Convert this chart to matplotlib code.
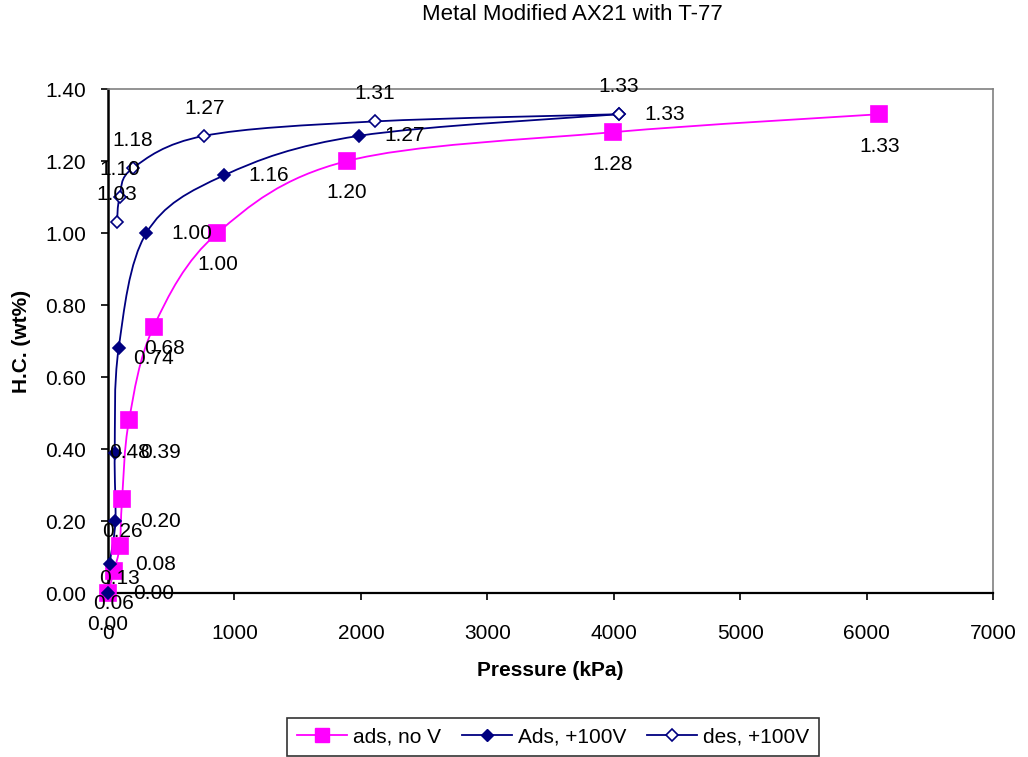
import numpy as np
import matplotlib; matplotlib.use('agg')
import matplotlib.pyplot as plt
from matplotlib.path import Path
from matplotlib.patches import PathPatch

# ads, no V
p_ads_nov = [0, 45, 92, 111, 166, 361, 865, 1890, 3990, 6100]
hc_ads_nov = [0.00, 0.06, 0.13, 0.26, 0.48, 0.74, 1.00, 1.20, 1.28, 1.33]

# Ads, +100V
p_ads_v = [0, 13, 58, 53, 84, 303, 916, 1985, 4040]
hc_ads_v = [0.00, 0.08, 0.20, 0.39, 0.68, 1.00, 1.16, 1.27, 1.33]

# des, +100V
p_des_v = [4040, 2110, 761, 195, 92, 71]
hc_des_v = [1.33, 1.31, 1.27, 1.18, 1.10, 1.03]

MAGENTA = '#FF00FF'
NAVY = '#000080'
XMAX, YMAX = 7000, 1.40
FS = 15

plt.rcParams['font.family'] = ['Liberation Sans', 'DejaVu Sans']


def smooth_path(ax, xs, ys):
    # excel-like smoothed line: catmull-rom turned into cubic beziers,
    # done in pixel-ish space so both axes count the same
    bb = ax.get_position()
    fig = ax.figure
    W = bb.width * fig.get_figwidth()
    H = bb.height * fig.get_figheight()
    u = np.asarray(xs, float) / XMAX * W
    v = np.asarray(ys, float) / YMAX * H
    n = len(u)
    verts = [(u[0], v[0])]
    codes = [Path.MOVETO]
    for i in range(n - 1):
        i0 = max(i - 1, 0)
        i3 = min(i + 2, n - 1)
        c1 = (u[i] + (u[i + 1] - u[i0]) / 6, v[i] + (v[i + 1] - v[i0]) / 6)
        c2 = (u[i + 1] - (u[i3] - u[i]) / 6, v[i + 1] - (v[i3] - v[i]) / 6)
        verts += [c1, c2, (u[i + 1], v[i + 1])]
        codes += [Path.CURVE4] * 3
    verts = np.array(verts)
    verts[:, 0] *= XMAX / W
    verts[:, 1] *= YMAX / H
    return Path(verts, codes)


def main():
    fig = plt.figure(figsize=(10.28, 7.57), dpi=100)
    ax = fig.add_axes([0.1051, 0.2166, 0.861, 0.6658])
    ax.set_xlim(0, XMAX)
    ax.set_ylim(0, YMAX)

    series = [
        (p_ads_nov, hc_ads_nov, MAGENTA, 's', MAGENTA, 11, 'below'),
        (p_ads_v, hc_ads_v, NAVY, 'D', NAVY, 6.5, 'right'),
        (p_des_v, hc_des_v, NAVY, 'D', 'white', 6.5, 'above'),
    ]

    for xs, ys, col, mk, fc, ms, pos in series:
        ax.add_patch(PathPatch(smooth_path(ax, xs, ys), fill=False,
                               edgecolor=col, lw=1.3, zorder=2))
        ax.plot(xs, ys, ls='none', marker=mk, color=col, mfc=fc, mec=col,
                ms=ms, mew=1.2, zorder=3, clip_on=False)
        for x, y in zip(xs, ys):
            if pos == 'below':
                kw = dict(xytext=(0, -23), ha='center', va='center')
            elif pos == 'right':
                kw = dict(xytext=(18, 0), ha='left', va='center')
            else:
                kw = dict(xytext=(0, 20), ha='center', va='center')
            ax.annotate('%.2f' % y, (x, y), textcoords='offset points',
                        fontsize=FS, annotation_clip=False, zorder=4, **kw)

    ax.set_xticks(range(0, 7001, 1000))
    ax.set_yticks(np.arange(0, 1.41, 0.2))
    ax.set_yticklabels(['%.2f' % t for t in np.arange(0, 1.41, 0.2)])
    ax.tick_params(labelsize=FS, direction='out', length=5, width=1.2)
    ax.tick_params(axis='x', pad=17)
    ax.tick_params(axis='y', pad=11)
    for s in ['top', 'right']:
        ax.spines[s].set_color('#808080')
        ax.spines[s].set_linewidth(1.2)
    ax.spines['left'].set_linewidth(1.8)
    ax.spines['bottom'].set_linewidth(1.6)

    fig.text(0.557, 1 - 14 / 757, 'Metal Modified AX21 with T-77',
             fontsize=16, ha='center', va='center')
    ax.set_xlabel('Pressure (kPa)', fontsize=FS, fontweight='bold', labelpad=13)
    ax.set_ylabel('H.C. (wt%)', fontsize=FS, fontweight='bold', labelpad=10)

    handles = [
        plt.Line2D([], [], color=MAGENTA, marker='s', ms=10, lw=1.3),
        plt.Line2D([], [], color=NAVY, marker='D', ms=6, lw=1.3),
        plt.Line2D([], [], color=NAVY, marker='D', mfc='white', ms=6, lw=1.3, mew=1.2),
    ]
    leg = fig.legend(handles, ['ads, no V', 'Ads, +100V', 'des, +100V'],
                     loc='center', bbox_to_anchor=(0.538, 1 - 737 / 757), ncol=3,
                     fontsize=FS, frameon=True, fancybox=False,
                     handlelength=2.4, handletextpad=0.3, columnspacing=1.0,
                     borderpad=0.45)
    leg.get_frame().set_edgecolor('black')
    leg.get_frame().set_linewidth(1.2)

    fig.savefig('out.png', dpi=100)


if __name__ == '__main__':
    main()
